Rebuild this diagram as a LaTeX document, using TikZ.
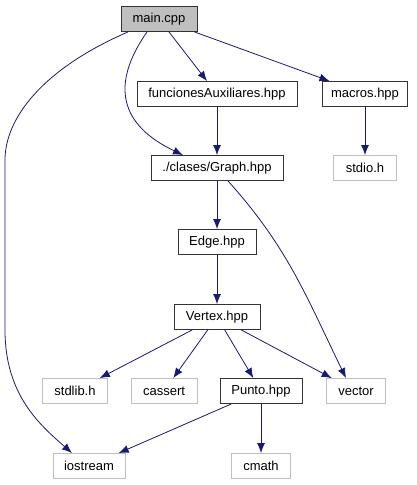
\documentclass[tikz,border=0pt]{standalone}
\usepackage{fontspec}
\setmainfont{Liberation Sans}
\usetikzlibrary{arrows.meta}
\definecolor{edgeblue}{HTML}{191970}
\definecolor{boxgray}{HTML}{BFBFBF}

\begin{document}
\begin{tikzpicture}[x=1pt,y=-1pt,
	file/.style={draw=black!80, line width=0.9pt, minimum height=25pt, inner sep=0pt, font=\fontsize{13}{15}\selectfont},
	sysfile/.style={file, draw=boxgray},
	inc/.style={draw=edgeblue, line width=0.8pt, -{Latex[length=10pt,width=8pt]}}]
			\useasboundingbox (0,0) rectangle (417,485);
			% project headers
			\node[file, fill=boxgray, minimum width=76pt] (main) at (159,19) {main.cpp};
			\node[file, minimum width=160pt] (aux) at (217,94) {funcionesAuxiliares.hpp};
			\node[file, minimum width=85pt] (macros) at (365,94) {macros.hpp};
			\node[file, minimum width=132pt] (graph) at (217,168) {./clases/Graph.hpp};
			\node[file, minimum width=78pt] (edge) at (217,242) {Edge.hpp};
			\node[file, minimum width=86pt] (vertex) at (217,317) {Vertex.hpp};
			\node[file, minimum width=82pt] (punto) at (261,391) {Punto.hpp};
			% system headers
			\node[sysfile, minimum width=63pt] (stdio) at (365,168) {stdio.h};
			\node[sysfile, minimum width=65pt] (stdlib) at (75,391) {stdlib.h};
			\node[sysfile, minimum width=66pt] (cassert) at (164,391) {cassert};
			\node[sysfile, minimum width=59pt] (vector) at (356,391) {vector};
			\node[sysfile, minimum width=72pt] (iostream) at (89,466) {iostream};
			\node[sysfile, minimum width=59pt] (cmath) at (261,466) {cmath};
			% includes
			\draw[inc] (main) -- (aux);
			\draw[inc] (main) -- (macros);
			\draw[inc] ([xshift=-12pt]main.south) .. controls (110,85) and (120,125) .. ([xshift=-34pt]graph.north);
			\draw[inc] ([xshift=-31pt]main.south) .. controls (40,70) and (5,120) .. (5,160) -- (5,330) .. controls (5,395) and (40,425) .. ([xshift=-17pt]iostream.north);
			\draw[inc] (aux) -- (graph);
			\draw[inc] (macros) -- (stdio);
			\draw[inc] (graph) -- (edge);
			\draw[inc] ([xshift=11pt]graph.south) to[out=-48,in=116] ([xshift=-10pt]vector.north);
			\draw[inc] (edge) -- (vertex);
			\draw[inc] (vertex) -- (stdlib);
			\draw[inc] (vertex) -- (cassert);
			\draw[inc] (vertex) -- (punto);
			\draw[inc] (vertex) -- (vector);
			\draw[inc] (punto) -- (iostream);
			\draw[inc] (punto) -- (cmath);
		\end{tikzpicture}
\end{document}
